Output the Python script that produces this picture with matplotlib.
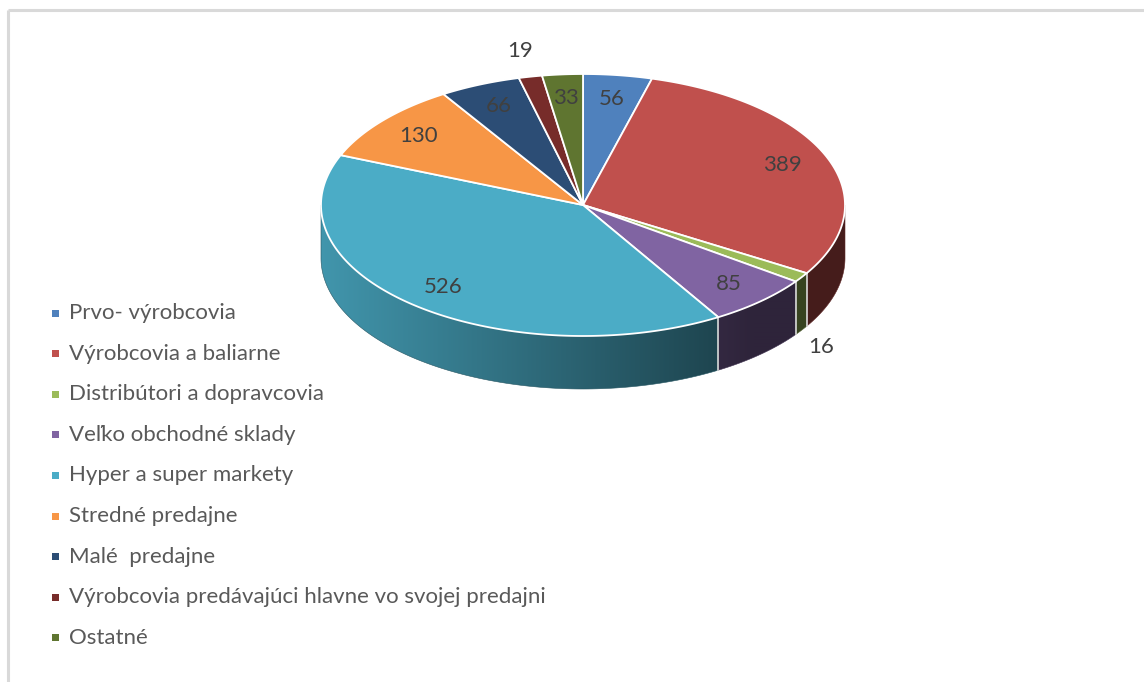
import numpy as np
import matplotlib
matplotlib.use("Agg")
import matplotlib.pyplot as plt
from matplotlib.patches import Polygon, Rectangle

categories = [
    "Prvo- výrobcovia",
    "Výrobcovia a baliarne",
    "Distribútori a dopravcovia",
    "Veľko obchodné sklady",
    "Hyper a super markety",
    "Stredné predajne",
    "Malé  predajne",
    "Výrobcovia predávajúci hlavne vo svojej predajni",
    "Ostatné",
]
values = [56, 389, 16, 85, 526, 130, 66, 19, 33]
colors = ["#4F81BD", "#C0504D", "#9BBB59", "#8064A2", "#4BACC6",
          "#F79646", "#2C4D75", "#772C2A", "#5F7530"]

W, H = 1144, 682
fig = plt.figure(figsize=(W / 100, H / 100), dpi=100)
ax = fig.add_axes([0, 0, 1, 1])
ax.set_xlim(0, W)
ax.set_ylim(H, 0)
ax.axis("off")

# frame
ax.plot([8, 8], [H, 10], color="#d9d9d9", lw=2.2, solid_capstyle="butt")
ax.plot([8, W], [10, 10], color="#d9d9d9", lw=2.2, solid_capstyle="butt")

cx, cy, rx, ry, depth = 583, 205, 262, 131, 53
total = float(sum(values))
cum = np.concatenate([[0], np.cumsum(values)]) / total * 360.0


def px(theta):
    t = np.radians(theta)
    return cx + rx * np.sin(t), cy - ry * np.cos(t)


def shade_factor(x):
    return np.clip(0.87 - 0.00118 * (x - (cx - rx)), 0.36, 0.9)


# side walls (front half) with horizontal gradient
for i, c in enumerate(colors):
    a0, a1 = cum[i], cum[i + 1]
    lo, hi = max(a0, 90), min(a1, 270)
    if lo >= hi:
        continue
    ts = np.linspace(lo, hi, 200)
    xs, ys = px(ts)
    pts = list(zip(xs, ys)) + list(zip(xs[::-1], ys[::-1] + depth))
    poly = Polygon(pts, closed=True, facecolor="none", edgecolor="none")
    ax.add_patch(poly)
    x0, x1 = xs.min() - 1, xs.max() + 1
    y0, y1 = ys.min() - 1, ys.max() + depth + 1
    gx = np.linspace(x0, x1, 400)
    rgb = np.array(matplotlib.colors.to_rgb(c))
    img = (shade_factor(gx)[:, None] * rgb[None, :])[None, :, :]
    im = ax.imshow(img, extent=(x0, x1, y1, y0), aspect="auto",
                   interpolation="bilinear", zorder=2)
    im.set_clip_path(poly)
    ax.add_patch(Polygon(pts, closed=True, facecolor="none",
                         edgecolor=tuple(rgb * 0.5), lw=0.4, zorder=2.1))

ax.set_xlim(0, W)
ax.set_ylim(H, 0)

# side separators
for b in cum[1:-1]:
    if 90 < b < 270:
        x, y = px(b)
        ax.plot([x, x], [y, y + depth], color="#d8d8d8", lw=1.2, zorder=3)

# top faces
for i, c in enumerate(colors):
    ts = np.linspace(cum[i], cum[i + 1], max(3, int((cum[i + 1] - cum[i]) * 2)))
    xs, ys = px(ts)
    pts = [(cx, cy)] + list(zip(xs, ys))
    ax.add_patch(Polygon(pts, closed=True, facecolor=c, edgecolor="white",
                         lw=1.3, joinstyle="round", zorder=4))

# data labels
for i, v in enumerate(values):
    mid = (cum[i] + cum[i + 1]) / 2
    t = np.radians(mid)
    if v < 25:
        front = np.cos(t) < 0
        f = 1.09 if front else 1.2
        x = cx + rx * f * np.sin(t)
        y = cy - ry * f * np.cos(t) + (depth + 10 if front else 0)
    else:
        f = 0.82
        x = cx + rx * f * np.sin(t)
        y = cy - ry * f * np.cos(t)
    ax.text(x, y, str(v), ha="center", va="center", fontsize=16,
            family="Lato", color="#404040", zorder=6)

# legend
y0, dy = 313, 40.6
for i, (lab, c) in enumerate(zip(categories, colors)):
    y = y0 + i * dy
    ax.add_patch(Rectangle((52, y - 3.5), 7, 7, facecolor=c, edgecolor="none", zorder=5))
    ax.text(69, y, lab, ha="left", va="center", fontsize=16, family="Lato",
            color="#595959", zorder=5)

fig.savefig("out.png", dpi=100, facecolor="white")
